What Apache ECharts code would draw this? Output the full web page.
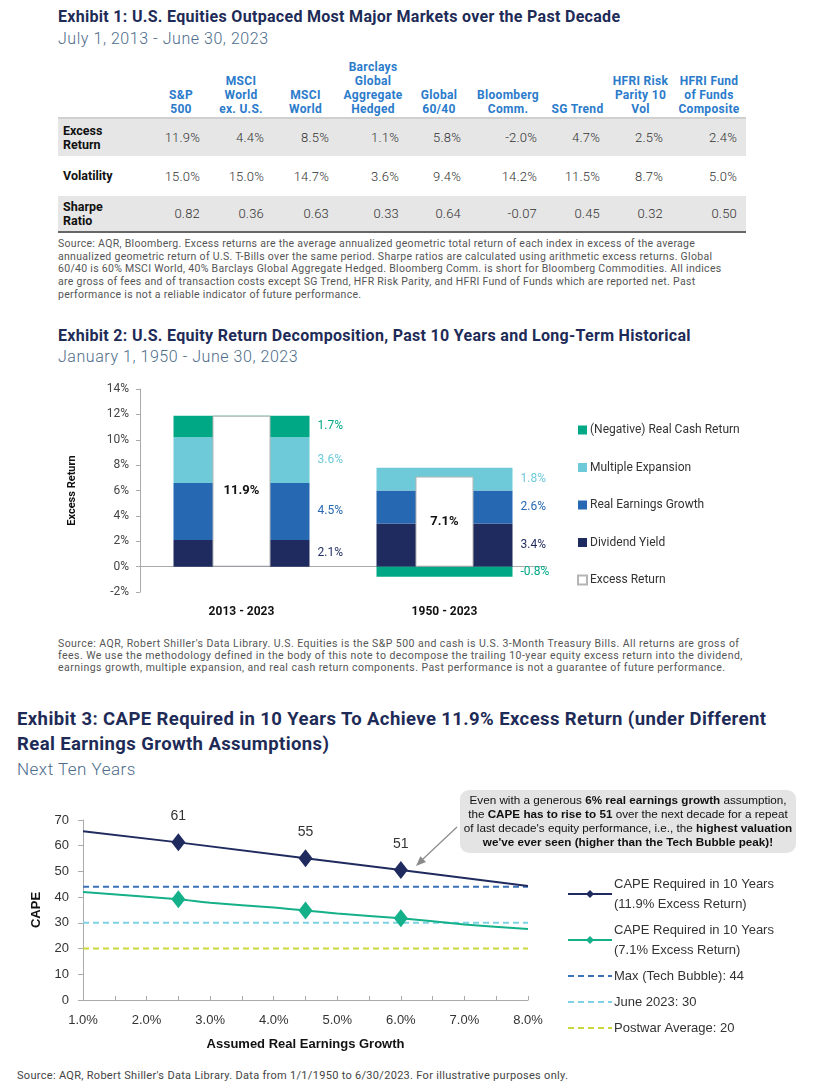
<!DOCTYPE html>
<html><head><meta charset="utf-8">
<script src="https://cdn.jsdelivr.net/npm/echarts@6/dist/echarts.min.js"></script>
<style>
body{margin:0;width:813px;height:1088px;position:relative;background:#fff;font-family:Roboto,"Liberation Sans",Arial,sans-serif;overflow:hidden}
.abs{position:absolute;white-space:nowrap}
.title{font-weight:700;color:#1e2b57;font-size:16px;line-height:18px;letter-spacing:0.3px}
.sub{font-weight:300;color:#4d6b8a;font-size:16px;line-height:18px;letter-spacing:0.55px}
.note{font-size:10.5px;color:#555;letter-spacing:0.3px}
#t1{position:absolute;left:58px;top:55px;width:688px;border-collapse:collapse;table-layout:fixed}
#t1 th{height:61px;vertical-align:bottom;padding:0 0 1px 0;color:#2b7bcb;font-size:12px;letter-spacing:0.3px;line-height:14px;font-weight:700;text-align:center;border-bottom:2px solid #d0d0d0}
#t1 td{font-size:13px;font-weight:300;color:#333;text-align:right;padding:0 9px 0 0;letter-spacing:0.2px}
#t1 td.lab{text-align:left;padding:0 0 0 5px;font-weight:700;color:#111;font-size:12.5px;line-height:14px;letter-spacing:0}
#t1 tr.g td{background:#e6e6e6}
#t1 tr.last td{border-bottom:2px solid #666}
</style></head>
<body>
<div class="abs title" style="left:58px;top:8px">Exhibit 1: U.S. Equities Outpaced Most Major Markets over the Past Decade</div>
<div class="abs sub" style="left:58px;top:30px">July 1, 2013 - June 30, 2023</div>
<table id="t1"></table>
<div class="abs note" style="left:58px;top:238px;line-height:12.7px">Source: AQR, Bloomberg. Excess returns are the average annualized geometric total return of each index in excess of the average<br>annualized geometric return of U.S. T-Bills over the same period. Sharpe ratios are calculated using arithmetic excess returns. Global<br>60/40 is 60% MSCI World, 40% Barclays Global Aggregate Hedged. Bloomberg Comm. is short for Bloomberg Commodities. All indices<br>are gross of fees and of transaction costs except SG Trend, HFR Risk Parity, and HFRI Fund of Funds which are reported net. Past<br>performance is not a reliable indicator of future performance.</div>

<div class="abs title" style="left:58px;top:327px">Exhibit 2: U.S. Equity Return Decomposition, Past 10 Years and Long-Term Historical</div>
<div class="abs sub" style="left:58px;top:348px">January 1, 1950 - June 30, 2023</div>
<div id="c2" style="position:absolute;left:0;top:370px;width:813px;height:262px"></div>
<div class="abs note" style="left:58px;top:638px;line-height:12px;letter-spacing:0.45px">Source: AQR, Robert Shiller's Data Library. U.S. Equities is the S&amp;P 500 and cash is U.S. 3-Month Treasury Bills. All returns are gross of<br>fees. We use the methodology defined in the body of this note to decompose the trailing 10-year equity excess return into the dividend,<br>earnings growth, multiple expansion, and real cash return components. Past performance is not a guarantee of future performance.</div>

<div class="abs title" style="left:17px;top:707px;font-size:18.5px;line-height:25px;letter-spacing:0.4px">Exhibit 3: CAPE Required in 10 Years To Achieve 11.9% Excess Return (under Different<br>Real Earnings Growth Assumptions)</div>
<div class="abs sub" style="left:17px;top:760px;font-size:17px;letter-spacing:0.5px">Next Ten Years</div>
<div id="c3" style="position:absolute;left:0;top:780px;width:813px;height:280px"></div>
<div class="abs note" style="left:17px;top:1069px;font-size:11px;color:#444;line-height:14px;letter-spacing:0.3px">Source: AQR, Robert Shiller's Data Library. Data from 1/1/1950 to 6/30/2023. For illustrative purposes only.</div>

<script>
// ---------- Exhibit 1 data ----------
const e1Columns = ['S&P\n500','MSCI\nWorld\nex. U.S.','MSCI\nWorld','Barclays\nGlobal\nAggregate\nHedged','Global\n60/40','Bloomberg\nComm.','SG Trend','HFRI Risk\nParity 10\nVol','HFRI Fund\nof Funds\nComposite'];
const e1RowLabels = ['Excess\nReturn','Volatility','Sharpe\nRatio'];
const e1Excess = [11.9, 4.4, 8.5, 1.1, 5.8, -2.0, 4.7, 2.5, 2.4];
const e1Volatility = [15.0, 15.0, 14.7, 3.6, 9.4, 14.2, 11.5, 8.7, 5.0];
const e1Sharpe = [0.82, 0.36, 0.63, 0.33, 0.64, -0.07, 0.45, 0.32, 0.50];

// ---------- Exhibit 2 data ----------
const e2Categories = ['2013 - 2023', '1950 - 2023'];
const e2Dividend = [2.1, 3.4];
const e2Earnings = [4.5, 2.6];
const e2Multiple = [3.6, 1.8];
const e2Cash = [1.7, -0.8];
const e2Excess = [11.9, 7.1];

// ---------- Exhibit 3 data ----------
const e3Growth119 = [1.0, 2.5, 4.5, 6.0, 8.0];
const e3Cape119 = [65.6, 61.3, 55.1, 50.6, 44.3];
const e3Growth71 = [1.0, 2.5, 3.0, 4.0, 4.5, 5.0, 6.0, 7.0, 8.0];
const e3Cape71 = [42.0, 39.2, 37.8, 36.0, 34.8, 33.6, 31.8, 29.4, 27.6];
const e3MarkerGrowth = [2.5, 4.5, 6.0];
const e3RefNames = ['Max (Tech Bubble): 44', 'June 2023: 30', 'Postwar Average: 20'];
const e3RefValues = [44, 30, 20];
const e3Range = [1.0, 8.0];

// ---------- build table ----------
(function(){
  const widths = [95,56,64,65,70,62,76,63,63,74];
  const t = document.getElementById('t1');
  let h = '<colgroup>' + widths.map(w => '<col style="width:' + w + 'px">').join('') + '</colgroup>';
  h += '<tr><th></th>' + e1Columns.map(c => '<th>' + c.replace(/&/g,'&amp;').replace(/\n/g,'<br>') + '</th>').join('') + '</tr>';
  const rows = [
    [e1Excess.map(v => v.toFixed(1) + '%'), 'g', 38],
    [e1Volatility.map(v => v.toFixed(1) + '%'), '', 40],
    [e1Sharpe.map(v => v.toFixed(2)), 'g last', 36]
  ];
  rows.forEach((r, i) => {
    h += '<tr class="' + r[1] + '" style="height:' + r[2] + 'px"><td class="lab">' + e1RowLabels[i].replace(/\n/g,'<br>') + '</td>' +
      r[0].map(v => '<td>' + v + '</td>').join('') + '</tr>';
  });
  t.innerHTML = h;
})();

// ---------- chart 2 ----------
const c2 = echarts.init(document.getElementById('c2'), null, {renderer:'canvas'});
const F2 = 'Roboto, "Liberation Sans", Arial, sans-serif';
function stackSeries(name, data, color){
  return {
    name, type:'bar', stack:'total', xAxisIndex:0, barWidth:136, data,
    itemStyle:{color},
    label:{show:true, position:'right', distance:8, color, fontSize:12, fontFamily:F2,
      formatter: p => p.value.toFixed(1) + '%'}
  };
}
c2.setOption({
  animation:false,
  textStyle:{fontFamily:F2},
  grid:{left:140, top:19, width:406, height:203, outerBoundsMode:'none', containLabel:false},
  legend:{orient:'vertical', left:572, top:48, itemWidth:9, itemHeight:9, itemGap:23.5, icon:'rect',
    textStyle:{fontSize:12, color:'#333', fontFamily:F2, lineHeight:14, padding:[0,0,0,-2]},
    data:['(Negative) Real Cash Return','Multiple Expansion','Real Earnings Growth','Dividend Yield','Excess Return']},
  xAxis:[
    {type:'category', data:e2Categories, position:'bottom', axisLine:{show:false, onZero:false}, axisTick:{show:false},
     axisLabel:{margin:14, fontSize:12, fontWeight:'bold', color:'#111', fontFamily:F2}},
    {type:'category', data:e2Categories, position:'bottom', axisLine:{show:true, onZero:true, lineStyle:{color:'#aaa'}},
     axisTick:{show:false}, axisLabel:{show:false}}
  ],
  yAxis:{type:'value', min:-2, max:14, interval:2,
    axisLine:{show:true, lineStyle:{color:'#aaa'}}, axisTick:{show:true, length:4, lineStyle:{color:'#aaa'}},
    splitLine:{show:false},
    axisLabel:{formatter:'{value}%', fontSize:12, color:'#444', margin:11, fontFamily:F2},
    name:'Excess Return', nameLocation:'middle', nameGap:62,
    nameTextStyle:{fontWeight:'bold', fontSize:11, color:'#111', fontFamily:F2}},
  series:[
    stackSeries('Dividend Yield', e2Dividend, '#1f2b5e'),
    stackSeries('Real Earnings Growth', e2Earnings, '#2768b3'),
    stackSeries('Multiple Expansion', e2Multiple, '#6ecad8'),
    stackSeries('(Negative) Real Cash Return', e2Cash, '#00a886'),
    {name:'Excess Return', type:'bar', xAxisIndex:1, barWidth:58, data:e2Excess, z:5,
     itemStyle:{color:'#ffffff', borderColor:'#b5b5b5', borderWidth:1},
     label:{show:true, position:'inside', fontWeight:'bold', fontSize:13, color:'#111', fontFamily:F2,
       formatter: p => p.value.toFixed(1) + '%'}}
  ]
});

// ---------- chart 3 ----------
const c3 = echarts.init(document.getElementById('c3'), null, {renderer:'canvas'});
const F3 = '"Liberation Sans", Arial, sans-serif';
function lineData(xs, ys, withLabels){
  return xs.map((x, i) => {
    const isMarker = e3MarkerGrowth.indexOf(x) >= 0;
    return {value:[x, ys[i]], symbol: isMarker ? 'diamond' : 'none',
      label:{show: withLabels && isMarker}};
  });
}
const refColors = ['#3a72b8','#7dd3e3','#c9d83c'];
const refSeries = e3RefNames.map((n, i) => ({
  name:n, type:'line', symbol:'none', silent:true, z:1,
  data: e3Range.map(x => [x, e3RefValues[i]]),
  lineStyle:{type:[6,4], width:2, color:refColors[i]},
  itemStyle:{color:refColors[i]}
}));
const legendNames119 = 'CAPE Required in 10 Years\n(11.9% Excess Return)';
const legendNames71 = 'CAPE Required in 10 Years\n(7.1% Excess Return)';
c3.setOption({
  animation:false,
  textStyle:{fontFamily:F3},
  grid:{left:83, top:40, width:445, height:180, outerBoundsMode:'none', containLabel:false},
  xAxis:{type:'value', min:1, max:8, interval:0.5,
    axisLine:{show:true, lineStyle:{color:'#aaa'}}, axisTick:{show:true, inside:true, length:4, lineStyle:{color:'#aaa'}},
    splitLine:{show:false},
    axisLabel:{fontSize:13, color:'#333', margin:14, fontFamily:F3,
      formatter: v => (Math.abs(v - Math.round(v)) < 1e-9 ? v.toFixed(1) + '%' : '')},
    name:'Assumed Real Earnings Growth', nameLocation:'middle', nameGap:38,
    nameTextStyle:{fontWeight:'bold', fontSize:13, color:'#111', fontFamily:F3}},
  yAxis:{type:'value', min:0, max:70, interval:10,
    axisLine:{show:true, lineStyle:{color:'#aaa'}}, axisTick:{show:true, length:5, lineStyle:{color:'#aaa'}},
    splitLine:{show:false},
    axisLabel:{fontSize:13, color:'#333', margin:14, fontFamily:F3},
    name:'CAPE', nameLocation:'middle', nameGap:40,
    nameTextStyle:{fontWeight:'bold', fontSize:13, color:'#111', fontFamily:F3}},
  legend:{orient:'vertical', left:562, top:89, itemWidth:44, itemHeight:10, itemGap:6,
    textStyle:{fontSize:13, color:'#333', lineHeight:20, fontFamily:F3, padding:[0,0,0,-3]},
    data:[legendNames119, legendNames71].concat(e3RefNames.map(n => ({name:n, itemStyle:{opacity:0}})))},
  series:[
    {name:legendNames119, type:'line', z:4,
     symbol:'diamond', symbolSize:[14,18], showSymbol:true,
     data: lineData(e3Growth119, e3Cape119, true),
     lineStyle:{color:'#1f2a5e', width:2}, itemStyle:{color:'#1f2a5e'},
     label:{position:'top', distance:10, fontSize:14, color:'#333', fontFamily:F3,
       formatter: p => String(Math.round(p.value[1]))}},
    {name:legendNames71, type:'line', z:4, smooth:0.2,
     symbol:'diamond', symbolSize:[14,18], showSymbol:true,
     data: lineData(e3Growth71, e3Cape71, false),
     lineStyle:{color:'#14b08a', width:2}, itemStyle:{color:'#14b08a'}}
  ].concat(refSeries),
  graphic:[
    {type:'rect', left:460, top:10, shape:{width:336, height:63, r:9}, style:{fill:'#e4e4e4'}, z:10},
    {type:'text', x:628, y:42, z:11, style:{
      text:'{n|Even with a generous }{b|6% real earnings growth}{n| assumption,}\n' +
           '{n|the }{b|CAPE has to rise to 51}{n| over the next decade for a repeat}\n' +
           "{n|of last decade's equity performance, i.e., the }{b|highest valuation}\n" +
           "{b|we've ever seen (higher than the Tech Bubble peak)!}",
      align:'center', verticalAlign:'middle', lineHeight:14,
      rich:{n:{fontSize:11.7, fill:'#111', fontFamily:F3, lineHeight:14},
            b:{fontSize:11.7, fontWeight:'bold', fill:'#111', fontFamily:F3, lineHeight:14}}}},
    {type:'line', z:11, shape:{x1:457, y1:47, x2:423, y2:79}, style:{stroke:'#8a8a8a', lineWidth:1.2}},
    {type:'polygon', z:11, shape:{points:[[416,86],[426,82],[420.4,76.2]]}, style:{fill:'#8a8a8a'}}
  ]
});
</script>
</body></html>
